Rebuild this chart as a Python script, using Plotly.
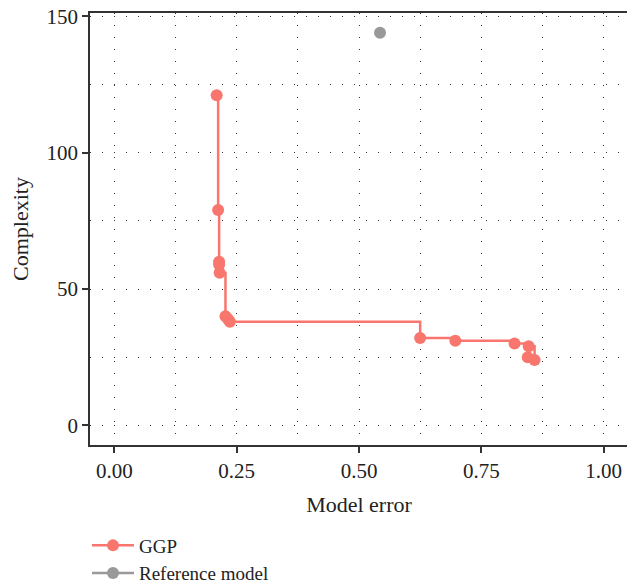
import plotly.graph_objects as go

ggp_error = [0.209, 0.212, 0.214, 0.214, 0.215, 0.227, 0.232, 0.236, 0.625, 0.697, 0.818, 0.845, 0.847, 0.859]
ggp_complexity = [121, 79, 60, 59, 56, 40, 39, 38, 32, 31, 30, 25, 29, 24]
ref_error = [0.543]
ref_complexity = [144]

# sort by error for step line
pairs = sorted(zip(ggp_error, ggp_complexity), key=lambda p: (p[0], -p[1]))
gx = [p[0] for p in pairs]
gy = [p[1] for p in pairs]

font = "Liberation Serif"
txt = "#222222"
fig = go.Figure()
fig.add_trace(go.Scatter(x=gx, y=gy, mode="lines+markers", name="GGP",
                         line=dict(color="#F8766D", width=2.5, shape="hv"),
                         marker=dict(color="#F8766D", size=12)))
fig.add_trace(go.Scatter(x=ref_error, y=ref_complexity, mode="lines+markers", name="Reference model",
                         line=dict(color="#999999", width=2.5),
                         marker=dict(color="#999999", size=12)))

dash = "1px,11px"
grid = dict(showgrid=True, gridcolor="#333333", gridwidth=1, griddash=dash)
common = dict(zeroline=False, showline=True, linecolor="#333333", linewidth=1.5, mirror=True,
              ticks="outside", ticklen=6, tickcolor="#333333", tickwidth=1.5, automargin=False,
              ticklabeloverflow="allow",
              tickfont=dict(family=font, size=21, color=txt))
fig.update_xaxes(range=[-0.05, 1.05], tickvals=[0, 0.25, 0.5, 0.75, 1.0],
                 ticktext=["0.00", "0.25", "0.50", "0.75", "1.00"],
                 **grid, **common,
                 minor=dict(tickvals=[0.125, 0.375, 0.625, 0.875], showgrid=True,
                            gridcolor="#333333", gridwidth=1, griddash=dash, ticks=""),
                 title=dict(text="Model error", font=dict(family=font, size=22, color=txt)))
fig.update_yaxes(range=[-7.2, 151.2], tickvals=[0, 50, 100, 150],
                 **grid, **common,
                 minor=dict(tickvals=[25, 75, 125], showgrid=True,
                            gridcolor="#333333", gridwidth=1, griddash=dash, ticks=""),
                 title=dict(text="Complexity", font=dict(family=font, size=22, color=txt)))
legfont = dict(family=font, size=19, color=txt)
# page body has an 8px margin, so the figure is sized/positioned to compensate
fig.update_layout(width=627, height=576, margin=dict(l=82, r=7, t=5, b=139, autoexpand=False),
                  plot_bgcolor="white", paper_bgcolor="white",
                  font=dict(family=font, size=21, color=txt),
                  legend=dict(x=-0.0056, y=-0.1887, xanchor="left", yanchor="top",
                              font=legfont, itemwidth=42, tracegroupgap=0,
                              bgcolor="rgba(0,0,0,0)"))
fig.write_html("out.html")
